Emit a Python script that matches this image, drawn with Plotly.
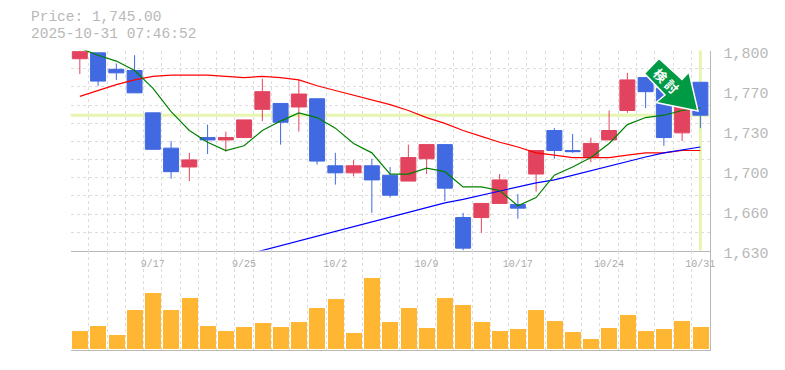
import plotly.graph_objects as go
from plotly.subplots import make_subplots

dates = ["9/10","9/11","9/12","9/16","9/17","9/18","9/19","9/22","9/24","9/25",
         "9/26","9/29","9/30","10/1","10/2","10/3","10/6","10/7","10/8","10/9",
         "10/10","10/14","10/15","10/16","10/17","10/20","10/21","10/22","10/23","10/24",
         "10/27","10/28","10/29","10/30","10/31"]
opens = [1793,1798,1784,1783,1747,1717,1701,1726,1724,1726,1750,1755,1752,1759,1702,1696,1702,1694,1689,1708,
         1720,1658,1658,1670,1669,1695,1732,1715,1709,1724,1749,1777,1768,1730,1773]
closes = [1799,1774,1781,1764,1716,1697,1707,1724,1726,1741,1765,1739,1763,1706,1696,1702,1690,1677,1709,1720,
          1683,1632,1670,1690,1666,1715,1715,1714,1721,1732,1775,1765,1726,1758,1745]
highs = [1800,1798,1789,1796,1747,1723,1713,1737,1731,1741,1776,1755,1775,1759,1713,1707,1708,1701,1720,1720,
         1720.5,1662,1670,1695,1678,1715,1734,1729,1726,1749,1781,1777,1768,1758,1773]
lows = [1780,1770,1775,1764,1716,1691,1689,1712,1714,1726,1740,1720,1731,1703,1686,1693,1662,1675,1689,1695,
        1672,1630,1645,1670,1657,1680,1708,1713,1705,1724,1747,1751,1719,1723,1734]
ma_short = [1802,1796,1791,1783,1768,1748,1732,1722,1715,1719,1732,1740,1747,1743,1734,1721,1713,1695,1695,1700,
            1697,1684,1684,1681,1668,1675,1694,1701,1709,1721,1737,1743,1745,1749,1751]
ma_mid = [1761,1766,1771,1775,1778,1779,1779,1779,1778,1777,1778,1777,1775,1770,1766,1762,1758,1754,1749,1743,
          1738,1732,1727,1722,1718,1713,1711,1709,1709,1709,1711,1713,1713,1715,1715]
ma_long = [None,None,None,None,None,None,None,None,None,1626,1630,1634.1,1638,1642,1646,1650,1654,1658,1662,1666.5,
           1670.5,1673.5,1677,1680.5,1684,1687.5,1690,1694,1698,1702,1706,1709.5,1713,1715.5,1718]
volumes = [18,23,14,39,56,39,51,23,18,22,26,22,27,41,50,16,71,27,41,21,
           51,44,27,18,20,39,28,17,10,21,34,18,20,28,22]
price_ticks = [1800,1766,1732,1698,1664,1630]
price_labels = ["1,800","1,770","1,730","1,700","1,660","1,630"]
date_ticks = [4,9,14,19,24,29,34]
last_price = 1745
title_lines = ["Price: 1,745.00","2025-10-31 07:46:52"]

W, H = 785, 370
GREY = "#b8b8b8"
GRID = "#dddddd"
FONT = "Liberation Mono"
idx = list(range(len(dates)))

def px(x): return x / W
def py(y): return 1 - y / H

fig = make_subplots(rows=2, cols=1)
fig.add_trace(go.Candlestick(x=idx, open=opens, high=highs, low=lows, close=closes, whiskerwidth=0,
    increasing=dict(line=dict(color="#e2445f", width=1), fillcolor="#e2445f"),
    decreasing=dict(line=dict(color="#4169e1", width=1), fillcolor="#4169e1"),
    hoverinfo="skip", showlegend=False), row=1, col=1)
fig.add_trace(go.Scatter(x=idx, y=ma_mid, mode="lines", line=dict(color="#ff0000", width=1.2), showlegend=False), row=1, col=1)
fig.add_trace(go.Scatter(x=idx, y=ma_long, mode="lines", line=dict(color="#0000ff", width=1.2), showlegend=False), row=1, col=1)
fig.add_trace(go.Scatter(x=idx, y=ma_short, mode="lines", line=dict(color="#008000", width=1.2), cliponaxis=False, showlegend=False), row=1, col=1)
fig.add_trace(go.Bar(x=idx, y=volumes, width=0.88, marker=dict(color="#ffb733", line=dict(width=0)), showlegend=False), row=2, col=1)

xcommon = dict(range=[-0.5, 34.5], showgrid=False, showline=True, linecolor=GREY, linewidth=1, zeroline=False, automargin=False,
               minor=dict(showgrid=True, gridcolor=GRID, griddash="3px,3px", gridwidth=1, tickmode="linear", tick0=-0.5, dtick=1, ticks=""),
               rangeslider=dict(visible=False))
xdom = [px(70.7), px(709.5)]
fig.update_xaxes(**xcommon)
fig.update_xaxes(row=1, col=1, domain=xdom, tickmode="array", tickvals=date_ticks, ticktext=[dates[i] for i in date_ticks],
                 tickfont=dict(family=FONT, size=10, color="#aaaaaa"), ticks="", ticklabelstandoff=3)
fig.update_xaxes(row=2, col=1, domain=xdom, showticklabels=False, ticks="")
fig.update_yaxes(row=1, col=1, domain=[py(250.5), py(50.5)], range=[1630, 1800], side="right", showgrid=False, showline=True, automargin=False,
                 linecolor=GREY, linewidth=1, zeroline=False, tickmode="array", tickvals=price_ticks, ticktext=price_labels,
                 tickfont=dict(family=FONT, size=15, color=GREY), ticks="", ticklabelstandoff=10, ticklabelshift=2,
                 minor=dict(showgrid=True, gridcolor=GRID, griddash="3px,3px", gridwidth=1, tickmode="linear", tick0=1630, dtick=170/11, ticks=""))
fig.update_yaxes(row=2, col=1, domain=[py(350), py(250.5)], range=[-2, 98], side="right", showgrid=False, showline=True, automargin=False,
                 linecolor=GREY, linewidth=1, zeroline=False, showticklabels=False, ticks="")

fig.add_shape(type="line", xref="x domain", yref="y", x0=0, x1=1, y0=last_price, y1=last_price,
              line=dict(color="#e6f5b0", width=3), layer="below")
fig.add_shape(type="line", xref="x", yref="y domain", x0=34, x1=34, y0=0, y1=1,
              line=dict(color="#e6f5b0", width=3), layer="below")

arrow = [(659,58.5),(682,79.5),(689,72),(698,111),(656,102.5),(665,95),(644.5,73.5)]
path = "M " + " L ".join(f"{px(x):.5f},{py(y):.5f}" for x, y in arrow) + " Z"
fig.add_shape(type="path", xref="paper", yref="paper", path=path, fillcolor="#009944",
              line=dict(color="#ffffff", width=1.5), layer="above")
fig.add_annotation(xref="paper", yref="paper", x=px(666), y=py(80.5), xanchor="center", yanchor="middle", text="<b>検 討</b>", textangle=45, showarrow=False,
                   borderpad=0, font=dict(family="Noto Sans CJK JP", size=13, color="#ffffff"))
for line, y in zip(title_lines, (17.5, 34)):
    fig.add_annotation(xref="paper", yref="paper", x=px(30), y=py(y), xanchor="left", yanchor="middle", text=line,
                       showarrow=False, borderpad=0, font=dict(family=FONT, size=14.5, color=GREY))

fig.update_layout(width=W, height=H, margin=dict(l=0, r=0, t=0, b=0, pad=0, autoexpand=False), paper_bgcolor="white", plot_bgcolor="white",
                  bargap=0, boxgap=0.18, boxgroupgap=0, showlegend=False, hovermode=False)
fig.write_html("out.html", config=dict(displayModeBar=False), post_script="document.body.style.margin='0';")
